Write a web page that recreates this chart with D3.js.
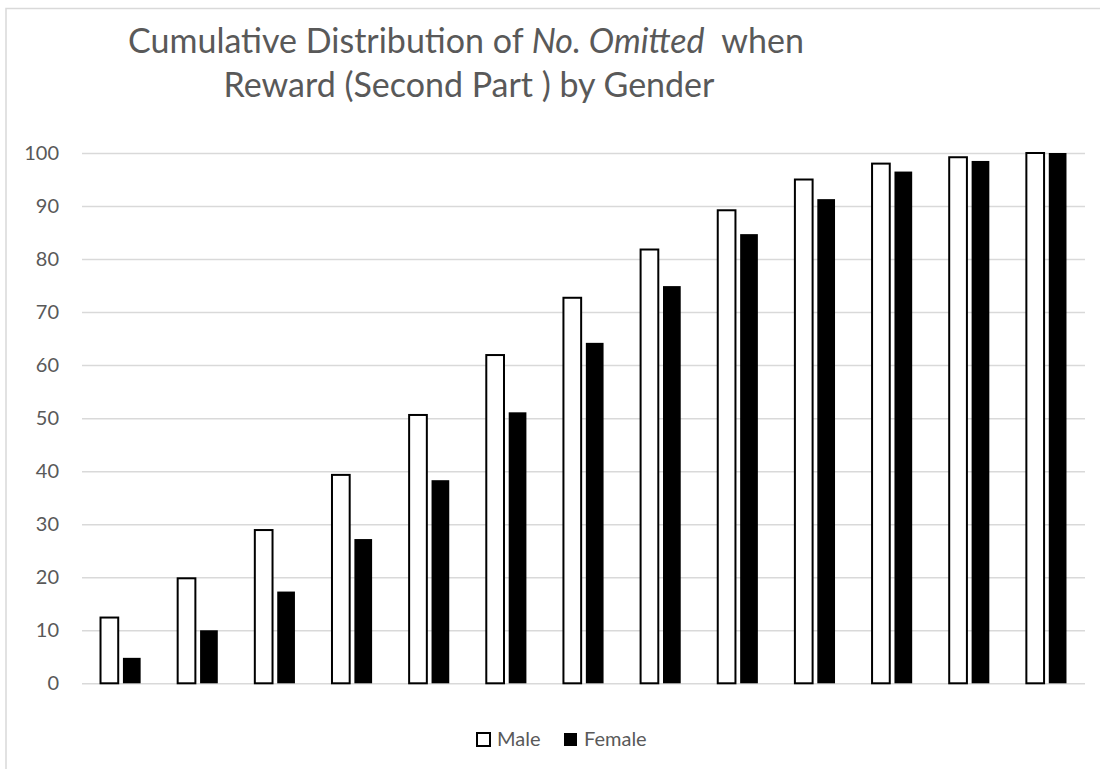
<!DOCTYPE html>
<html>
<head>
<meta charset="utf-8">
<script src="https://cdn.jsdelivr.net/npm/d3@7"></script>
<style>
  body { margin: 0; background: #fff; }
  svg { display: block; }
</style>
</head>
<body>
<svg></svg>
<script>
        // Data
        var categories = ["0","1","2","3","4","5","6","7","8","9","10","11","12"];
        var seriesNames = ["Male", "Female"];
        var male   = [12.4, 19.8, 28.9, 39.3, 50.6, 61.9, 72.7, 81.8, 89.2, 95.0, 98.0, 99.2, 100];
        var female = [4.8, 10.0, 17.3, 27.2, 38.3, 51.1, 64.2, 74.9, 84.7, 91.3, 96.5, 98.5, 100];
        var yTicks = [0, 10, 20, 30, 40, 50, 60, 70, 80, 90, 100];

        var W = 1100, H = 769;
        var plot = {left: 82, right: 1085, top: 153, bottom: 683.3};
        var textColor = "#595959";
        var gridColor = "#d9d9d9";
        var font = "Lato, 'Open Sans', sans-serif";

        var svg = d3.select("svg")
                    .attr("width", W)
                    .attr("height", H);

        // chart area border (only top and left are visible in the crop)
        svg.append("rect")
            .attr("x", 6)
            .attr("y", 8.5)
            .attr("width", 1300)
            .attr("height", 1000)
            .attr("fill", "#fff")
            .attr("stroke", gridColor)
            .attr("stroke-width", 1.5);

        // Scales
        var x0 = d3.scaleBand()
                   .domain(categories)
                   .range([plot.left, plot.right])
                   .padding(0);

        var bw = x0.bandwidth();
        var x1 = d3.scaleBand()
                   .domain(seriesNames)
                   .range([bw * 0.24, bw * 0.76])
                   .paddingInner(0.21);

        var yScale = d3.scaleLinear()
                       .domain([0, 100])
                       .range([plot.bottom, plot.top]);

        // Y axis with gridlines
        var yAxis = d3.axisLeft(yScale)
                      .tickValues(yTicks)
                      .tickSize(-(plot.right - plot.left))
                      .tickPadding(23);

        var yAxisGroup = svg.append("g")
            .attr("transform", "translate(" + plot.left + ",0)")
            .call(yAxis);

        yAxisGroup.select(".domain").remove();
        yAxisGroup.selectAll(".tick line")
            .attr("stroke", gridColor)
            .attr("stroke-width", 1.5);
        yAxisGroup.selectAll(".tick text")
            .attr("fill", textColor)
            .attr("font-family", font)
            .attr("font-size", "20px");

        // Bars
        var rows = categories.map(function(c, i) {
            return {cat: c, values: [
                {name: "Male", value: male[i]},
                {name: "Female", value: female[i]}
            ]};
        });

        var groups = svg.selectAll("g.cat")
            .data(rows)
            .enter()
            .append("g")
            .attr("class", "cat")
            .attr("transform", function(d) { return "translate(" + x0(d.cat) + ",0)"; });

        groups.selectAll("rect")
            .data(function(d) { return d.values; })
            .enter()
            .append("rect")
            .attr("x", function(d) { return x1(d.name); })
            .attr("y", function(d) { return yScale(d.value); })
            .attr("width", x1.bandwidth())
            .attr("height", function(d) { return plot.bottom - yScale(d.value); })
            .attr("fill", function(d) { return d.name === "Male" ? "#fff" : "#000"; })
            .attr("stroke", function(d) { return d.name === "Male" ? "#000" : "none"; })
            .attr("stroke-width", 2);

        // Title
        var title = svg.append("text")
            .attr("text-anchor", "middle")
            .attr("font-family", font)
            .attr("font-size", "34px")
            .attr("fill", textColor);

        var line1 = title.append("tspan")
            .attr("x", 466)
            .attr("y", 53);
        line1.append("tspan").text("Cumulative Distribution of ");
        line1.append("tspan").attr("font-style", "italic").text("No. Omitted");
        line1.append("tspan").attr("xml:space", "preserve").text("  when");

        title.append("tspan")
            .attr("x", 469)
            .attr("y", 97)
            .text("Reward (Second Part ) by Gender");

        // Legend
        var legend = svg.append("g")
            .attr("transform", "translate(476,732)");

        var legendItems = [
            {name: "Male", x: 0, fill: "#fff", stroke: "#000"},
            {name: "Female", x: 87, fill: "#000", stroke: "none"}
        ];

        var items = legend.selectAll("g")
            .data(legendItems)
            .enter()
            .append("g")
            .attr("transform", function(d) { return "translate(" + d.x + ",0)"; });

        items.append("rect")
            .attr("x", 1)
            .attr("y", 1)
            .attr("width", 13)
            .attr("height", 13)
            .attr("fill", function(d) { return d.fill; })
            .attr("stroke", function(d) { return d.stroke; })
            .attr("stroke-width", 2);

        items.append("text")
            .attr("x", 21)
            .attr("y", 14)
            .attr("font-family", font)
            .attr("font-size", "20px")
            .attr("fill", textColor)
            .text(function(d) { return d.name; });
</script>
</body>
</html>
